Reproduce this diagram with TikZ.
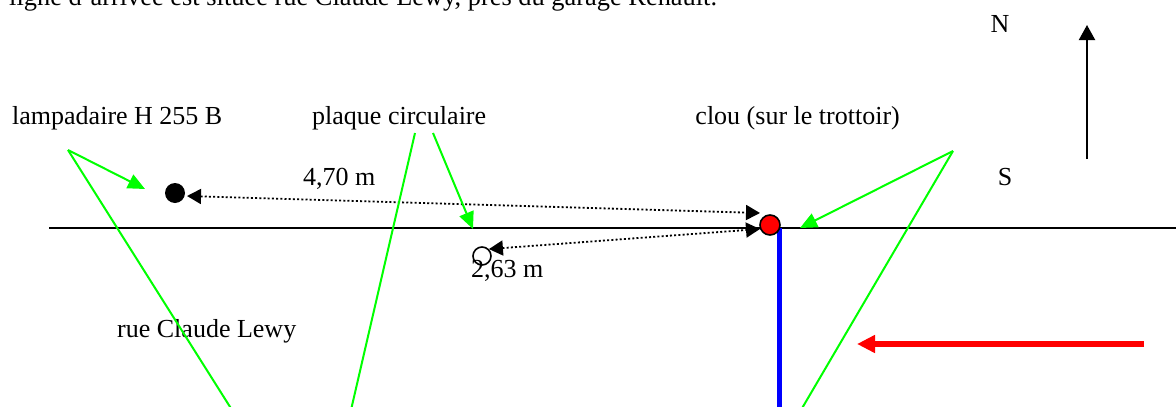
\documentclass[tikz,border=0pt]{standalone}
\usepackage{fontspec}
\setmainfont{Liberation Serif}
\usetikzlibrary{arrows.meta}
\definecolor{grn}{RGB}{0,255,0}
\definecolor{rd}{RGB}{255,0,0}
\definecolor{bl}{RGB}{0,0,255}
\tikzset{
  lbl/.style={inner sep=0pt, font=\fontsize{26}{30}\selectfont},
  leader/.style={draw=grn, line width=2pt},
  pointer/.style={leader, -{Triangle[length=17pt,width=15pt]}},
  dimline/.style={line width=1.8pt, dash pattern=on 2pt off 2.2pt,
    {Triangle[length=14pt,width=15pt]}-{Triangle[length=14pt,width=15pt]}},
  road/.style={line width=2pt, black},
}
\begin{document}
\begin{tikzpicture}[x=1pt,y=-1pt]
\useasboundingbox (0,0) rectangle (1176,407);
\clip (0,0) rectangle (1176,407);
% top cut-off text
\node[lbl, font=\fontsize{26.4}{30}\selectfont, anchor=base west] (intro) at (9,5) {ligne d'arrivée est située rue Claude Lewy, près du garage Renault.};
% labels
\node[lbl, anchor=base west] (lampl) at (12,124) {lampadaire H 255 B};
\node[lbl, anchor=base west] (plaql) at (312,124) {plaque circulaire};
\node[lbl, anchor=base east] (cloul) at (900,124) {clou (sur le trottoir)};
\node[lbl, anchor=base west] (d470) at (303,185) {4,70 m};
\node[lbl, anchor=base west] (d263) at (471,277) {2,63 m};
\node[lbl, anchor=base west] (rue) at (117,337) {rue Claude Lewy};
\node[lbl, anchor=base] (north) at (1000,32) {N};
\node[lbl, anchor=base] (south) at (1005,185) {S};
% road
\coordinate (roadW) at (49,228);
\coordinate (roadE) at (1176,228);
\draw[road] (roadW) -- (roadE);
% blue line
\coordinate (blueT) at (779,228);
\coordinate (blueB) at (779,410);
\draw[bl, line width=5pt] (blueT) -- (blueB);
% objects
\node[circle, fill=black, inner sep=0pt, minimum size=20pt] (lamp) at (175,193) {};
\node[circle, draw=black, line width=1.6pt, inner sep=0pt, minimum size=18pt] (plaque) at (482,256) {};
\node[circle, fill=rd, draw=black, line width=1.6pt, inner sep=0pt, minimum size=20pt] (clou) at (770,225) {};
% dimension lines
\coordinate (c1) at (760,213);
\coordinate (c2) at (760,229);
\coordinate (lampT) at (187,196);
\draw[dimline] (lampT) -- (c1);
\draw[dimline] (plaque.north east) -- (c2);
% green leaders
\coordinate (ga) at (68,150);
\coordinate (gaB) at (232,410);
\coordinate (lampP) at (145,189);
\draw[pointer] (ga) -- (lampP);
\draw[leader] (ga) -- (gaB);
\coordinate (gp1) at (415,133);
\coordinate (gp1B) at (351,410);
\coordinate (gp2) at (433,133);
\coordinate (gp2T) at (473,229);
\draw[leader] (gp1) -- (gp1B);
\draw[pointer] (gp2) -- (gp2T);
\coordinate (gc) at (953,151);
\coordinate (gcT) at (800,228);
\coordinate (gcB) at (801,410);
\draw[pointer] (gc) -- (gcT);
\draw[leader] (gc) -- (gcB);
% north arrow
\coordinate (nS) at (1087,159);
\coordinate (nN) at (1087,25);
\draw[line width=2pt, -{Triangle[length=15pt,width=16pt]}] (nS) -- (nN);
% red arrow
\coordinate (rS) at (1144,344);
\coordinate (rE) at (857,344);
\draw[rd, line width=6pt, -{Triangle[length=18pt,width=17pt]}] (rS) -- (rE);
\end{tikzpicture}
\end{document}
